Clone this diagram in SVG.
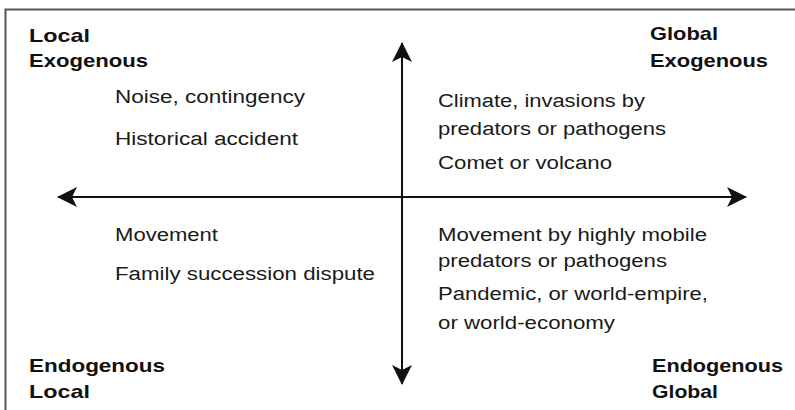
<svg xmlns="http://www.w3.org/2000/svg" width="795" height="410" viewBox="0 0 795 410">
<style>
  .t { font-family: "Liberation Sans", Arial, sans-serif; font-size: 18px; fill: #1a1a1a; }
  .b { font-family: "Liberation Sans", Arial, sans-serif; font-size: 19px; font-weight: bold; fill: #111; }
  .ax { stroke: #111; stroke-width: 2; fill: none; }
</style>
<defs>
  <marker id="ah" viewBox="0 0 20 20" refX="19" refY="10" markerWidth="20" markerHeight="20" markerUnits="userSpaceOnUse" orient="auto-start-reverse">
    <path d="M0,0 L20,10 L0,20 L5,10 Z" fill="#111"/>
  </marker>
</defs>
<rect width="795" height="410" fill="#fff"/>
<path d="M5.5,410 V9.5 H795" fill="none" stroke="#555" stroke-width="2"/>
<g id="connectors">
  <line class="ax" x1="402" y1="43" x2="402" y2="384" marker-start="url(#ah)" marker-end="url(#ah)"/>
  <line class="ax" x1="58" y1="197" x2="746" y2="197" marker-start="url(#ah)" marker-end="url(#ah)"/>
</g>
<g id="corner-local-exogenous">
  <text class="b" x="29" y="42" textLength="61" lengthAdjust="spacingAndGlyphs">Local</text>
  <text class="b" x="29" y="67" textLength="119" lengthAdjust="spacingAndGlyphs">Exogenous</text>
</g>
<g id="corner-global-exogenous">
  <text class="b" x="650" y="40" textLength="68" lengthAdjust="spacingAndGlyphs">Global</text>
  <text class="b" x="650" y="67" textLength="118" lengthAdjust="spacingAndGlyphs">Exogenous</text>
</g>
<g id="corner-endogenous-local">
  <text class="b" x="29" y="372" textLength="136" lengthAdjust="spacingAndGlyphs">Endogenous</text>
  <text class="b" x="29" y="398" textLength="61" lengthAdjust="spacingAndGlyphs">Local</text>
</g>
<g id="corner-endogenous-global">
  <text class="b" x="652" y="372" textLength="131" lengthAdjust="spacingAndGlyphs">Endogenous</text>
  <text class="b" x="652" y="398" textLength="66" lengthAdjust="spacingAndGlyphs">Global</text>
</g>
<g id="quadrant-local-exogenous">
  <text class="t" x="115" y="103" textLength="190" lengthAdjust="spacingAndGlyphs">Noise, contingency</text>
  <text class="t" x="115" y="145" textLength="183" lengthAdjust="spacingAndGlyphs">Historical accident</text>
</g>
<g id="quadrant-global-exogenous">
  <text class="t" x="438" y="107" textLength="207" lengthAdjust="spacingAndGlyphs">Climate, invasions by</text>
  <text class="t" x="438" y="135" textLength="228" lengthAdjust="spacingAndGlyphs">predators or pathogens</text>
  <text class="t" x="438" y="169" textLength="174" lengthAdjust="spacingAndGlyphs">Comet or volcano</text>
</g>
<g id="quadrant-endogenous-local">
  <text class="t" x="115" y="241" textLength="103" lengthAdjust="spacingAndGlyphs">Movement</text>
  <text class="t" x="115" y="280" textLength="260" lengthAdjust="spacingAndGlyphs">Family succession dispute</text>
</g>
<g id="quadrant-endogenous-global">
  <text class="t" x="438" y="241" textLength="269" lengthAdjust="spacingAndGlyphs">Movement by highly mobile</text>
  <text class="t" x="438" y="267" textLength="229" lengthAdjust="spacingAndGlyphs">predators or pathogens</text>
  <text class="t" x="438" y="300" textLength="270" lengthAdjust="spacingAndGlyphs">Pandemic, or world-empire,</text>
  <text class="t" x="438" y="329" textLength="177" lengthAdjust="spacingAndGlyphs">or world-economy</text>
</g>
</svg>
